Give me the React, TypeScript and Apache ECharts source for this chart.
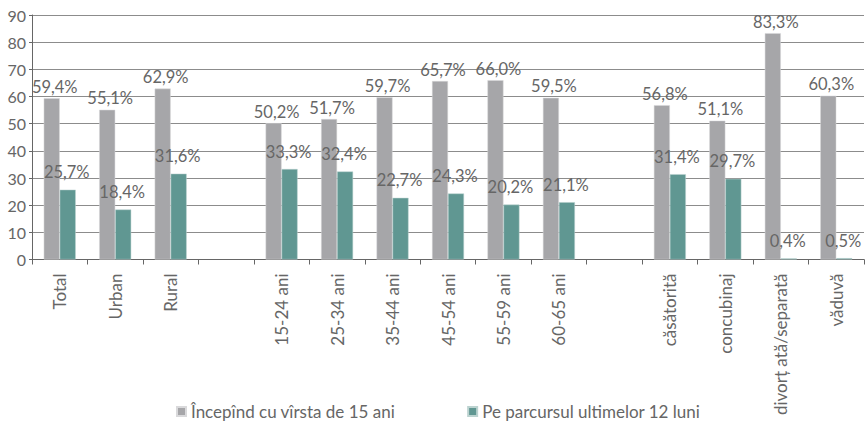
import React, { useEffect, useRef } from "react";
import * as echarts from "echarts";

const categories = [
  "Total", "Urban", "Rural", "",
  "15-24 ani", "25-34 ani", "35-44 ani", "45-54 ani", "55-59 ani", "60-65 ani", " ",
  "căsătorită", "concubinaj", "divorț ată/separată", "văduvă",
];
const seriesNames = ["Începînd cu vîrsta de 15 ani", "Pe parcursul ultimelor 12 luni"];
const since15 = [59.4, 55.1, 62.9, null, 50.2, 51.7, 59.7, 65.7, 66.0, 59.5, null, 56.8, 51.1, 83.3, 60.3];
const last12 = [25.7, 18.4, 31.6, null, 33.3, 32.4, 22.7, 24.3, 20.2, 21.1, null, 31.4, 29.7, 0.4, 0.5];
const yTicks = [0, 10, 20, 30, 40, 50, 60, 70, 80, 90];

const FONT = "Lato";
const TEXT = "#666666";

export default function App() {
  const ref = useRef<HTMLDivElement>(null);
  useEffect(() => {
    document.body.style.margin = "0";
    const chart = echarts.init(ref.current!, null, { renderer: "svg" });
    const fmt = (p: any) => (p.value == null ? "" : Number(p.value).toFixed(1).replace(".", ",") + "%");
    chart.setOption({
      animation: false,
      textStyle: { fontFamily: FONT },
      grid: { left: 32, right: 1, top: 15, bottom: 162.5, containLabel: false },
      legend: {
        left: 176,
        top: 403,
        padding: 0,
        itemWidth: 9,
        itemHeight: 9,
        itemGap: 72,
        icon: "rect",
        textStyle: { fontFamily: FONT, fontSize: 17, lineHeight: 17, color: TEXT },
        data: seriesNames,
      },
      xAxis: {
        type: "category",
        data: categories,
        axisLine: { lineStyle: { color: "#666", width: 1 } },
        axisTick: { show: true, length: 5, lineStyle: { color: "#666" } },
        axisLabel: {
          rotate: 90,
          interval: 0,
          margin: 14,
          fontFamily: FONT,
          fontSize: 17,
          color: TEXT,
        },
      },
      yAxis: {
        type: "value",
        min: yTicks[0],
        max: yTicks[yTicks.length - 1],
        interval: 10,
        axisLine: { show: true, lineStyle: { color: "#666" } },
        axisTick: { show: true, length: 3, lineStyle: { color: "#666" } },
        splitLine: { lineStyle: { color: "#8c8c8c", width: 1 } },
        axisLabel: { fontFamily: FONT, fontSize: 16, color: TEXT, margin: 6 },
      },
      series: [
        {
          name: seriesNames[0],
          type: "bar",
          data: since15,
          barWidth: 16,
          barGap: "0%",
          itemStyle: { color: "#a6a6a9", borderColor: "#d9d9db", borderWidth: 0.5 },
          label: {
            show: true,
            position: "top",
            distance: 3,
            offset: [3, 0],
            formatter: fmt,
            fontFamily: FONT,
            fontSize: 16.5,
            color: TEXT,
          },
        },
        {
          name: seriesNames[1],
          type: "bar",
          data: last12,
          barWidth: 16,
          itemStyle: { color: "#609792", borderColor: "#bcd3d0", borderWidth: 0.5 },
          label: {
            show: true,
            position: "top",
            distance: 9,
            offset: [-1, 0],
            formatter: fmt,
            fontFamily: FONT,
            fontSize: 16.5,
            color: TEXT,
          },
        },
      ],
    });
    return () => chart.dispose();
  }, []);
  return <div ref={ref} style={{ width: 865, height: 422 }} />;
}
